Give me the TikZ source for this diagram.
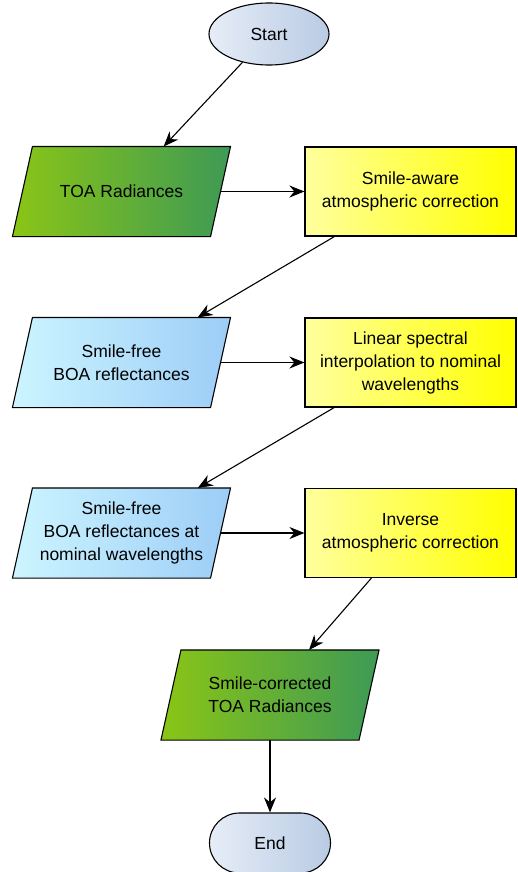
\documentclass[tikz,border=0pt]{standalone}
\usepackage{fontspec}
\setmainfont{Liberation Sans}
\usepackage{tikz}
\usetikzlibrary{shapes.geometric,arrows.meta,backgrounds}
\definecolor{pale blue}{rgb}{0.9020, 0.9294, 0.9686}
\definecolor{dusty blue}{rgb}{0.7255, 0.7961, 0.8941}
\definecolor{lime green}{rgb}{0.5412, 0.7725, 0.0863}
\definecolor{moss green}{rgb}{0.2431, 0.6039, 0.3333}
\definecolor{ice blue}{rgb}{0.8000, 0.9608, 1.0000}
\definecolor{sky blue}{rgb}{0.6157, 0.8039, 0.9686}
\definecolor{soft yellow}{rgb}{1.0000, 1.0000, 0.6196}
\definecolor{bright yellow}{rgb}{1.0000, 1.0000, 0.0000}

\begin{document}
\begin{tikzpicture}[x=1pt, y=-1pt,
		box/.style={line width=1.1pt, inner sep=0pt, align=center,
			font=\fontsize{17.5}{23}\selectfont},
		terminal/.style={box, draw, ellipse, minimum width=120pt, minimum height=62pt,
			left color=pale blue, right color=dusty blue},
		stopper/.style={box, draw, rectangle, rounded corners=30pt, minimum width=121pt,
			minimum height=60pt, left color=pale blue, right color=dusty blue},
		data/.style={box, rectangle, minimum width=197pt, minimum height=89pt},
		process/.style={box, draw, rectangle, minimum width=211pt, minimum height=89pt,
			left color=soft yellow, right color=bright yellow},
		flow/.style={-{Stealth[length=15pt, width=12pt]}, line width=1.1pt}]
		\useasboundingbox (0, 0) rectangle (517, 872);
		% start and end
		\node[terminal] (start) at (269, 34) {Start};
		\node[stopper] (end) at (270, 843) {End};
		% first row
		\node[data] (toa) at (121.5, 191.5) {TOA Radiances};
		\node[process] (smileaware) at (410.5, 191.5) {Smile-aware\\atmospheric correction};
		% second row
		\node[data] (boa) at (121.5, 362.5) {Smile-free\\BOA reflectances};
		\node[process] (interp) at (410.5, 362.5) {Linear spectral\\interpolation to nominal\\wavelengths};
		% third row
		\node[data] (boanominal) at (121.5, 533) {Smile-free\\BOA reflectances at\\nominal wavelengths};
		\node[process] (inverse) at (410.5, 533) {Inverse\\atmospheric correction};
		% result
		\node[data] (corrected) at (270, 695) {Smile-corrected\\TOA Radiances};
		% slanted outlines behind the data nodes
		\begin{scope}[on background layer]
			\foreach \n/\lc/\rc in {toa/lime green/moss green, boa/ice blue/sky blue,
					boanominal/ice blue/sky blue, corrected/lime green/moss green}
				\shade[draw, line width=1.1pt, left color=\lc, right color=\rc]
					([xshift=-10pt]\n.south west) -- ([xshift=10pt]\n.north west)
					-- ([xshift=10pt]\n.north east) -- ([xshift=-10pt]\n.south east) -- cycle;
		\end{scope}
		% arrows
		\draw[flow] (start) -- (toa);
		\draw[flow] (toa) -- (smileaware);
		\draw[flow] (smileaware) -- (boa);
		\draw[flow] (boa) -- (interp);
		\draw[flow] (interp) -- (boanominal);
		\draw[flow] (boanominal) -- (inverse);
		\draw[flow] (inverse) -- (corrected);
		\draw[flow] (corrected) -- (end);
	\end{tikzpicture}
\end{document}
